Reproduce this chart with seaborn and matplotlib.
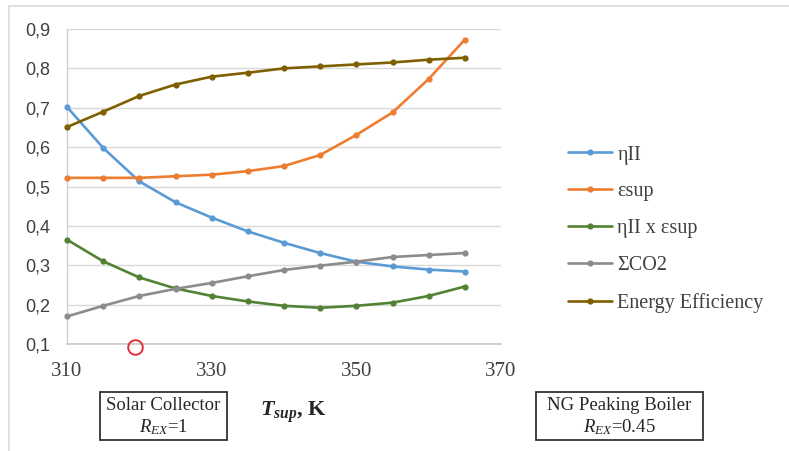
import matplotlib
matplotlib.use("Agg")
import matplotlib.pyplot as plt
import seaborn as sns
import pandas as pd
from matplotlib.patches import Rectangle
from matplotlib.ticker import FuncFormatter

# ---- data ----
t_sup = [310, 315, 320, 325, 330, 335, 340, 345, 350, 355, 360, 365]
eta_II = [0.702, 0.598, 0.513, 0.460, 0.421, 0.386, 0.357, 0.331, 0.309, 0.297, 0.289, 0.284]
eps_sup = [0.522, 0.522, 0.522, 0.526, 0.530, 0.539, 0.552, 0.580, 0.631, 0.688, 0.773, 0.873]
eta_x_eps = [0.365, 0.310, 0.269, 0.241, 0.222, 0.208, 0.197, 0.192, 0.197, 0.205, 0.222, 0.246]
sum_co2 = [0.170, 0.197, 0.222, 0.240, 0.255, 0.272, 0.288, 0.299, 0.309, 0.321, 0.326, 0.331]
energy_eff = [0.651, 0.690, 0.730, 0.759, 0.779, 0.789, 0.800, 0.805, 0.810, 0.815, 0.822, 0.827]

series_names = ["ηII", "ɛsup", "ηII x ɛsup", "ΣCO2", "Energy Efficiency"]
series_values = [eta_II, eps_sup, eta_x_eps, sum_co2, energy_eff]
colors = ["#5B9BD5", "#ED7D31", "#548235", "#8C8C8C", "#7F6000"]

x_ticks = [310, 330, 350, 370]
y_ticks = [0.1, 0.2, 0.3, 0.4, 0.5, 0.6, 0.7, 0.8, 0.9]

rows = []
for name, vals in zip(series_names, series_values):
    for t, v in zip(t_sup, vals):
        rows.append({"T": t, "value": v, "series": name})
df = pd.DataFrame(rows)

sns.set_style("white")
plt.rcParams["font.family"] = ["Liberation Serif", "DejaVu Serif"]
plt.rcParams["mathtext.fontset"] = "custom"
plt.rcParams["mathtext.rm"] = "Liberation Serif"
plt.rcParams["mathtext.it"] = "Liberation Serif:italic"
plt.rcParams["mathtext.bf"] = "Liberation Serif:italic:bold"

fig = plt.figure(figsize=(7.89, 4.51), dpi=100)
ax = fig.add_axes([67 / 789, 1 - 344 / 451, (501 - 67) / 789, (344 - 29) / 451])

sns.lineplot(data=df, x="T", y="value", hue="series", palette=colors,
             hue_order=series_names, marker="o", markersize=4.5,
             markeredgewidth=0, linewidth=1.9, ax=ax, legend=True)
for ln in ax.lines:
    ln.set_clip_on(False)
    ln.set_zorder(3)

ax.set_xlim(310, 370)
ax.set_ylim(0.1, 0.9)
ax.set_xticks(x_ticks)
ax.set_yticks(y_ticks)
ax.yaxis.set_major_formatter(FuncFormatter(lambda v, p: f"{v:.1f}".replace(".", ",")))
ax.grid(axis="y", color="#D9D9D9", linewidth=1)
ax.grid(axis="x", visible=False)
ax.set_axisbelow(True)
for s in ["top", "right"]:
    ax.spines[s].set_visible(False)
ax.spines["bottom"].set_color("#C8C8C8")
ax.spines["bottom"].set_linewidth(1.2)
ax.spines["left"].set_color("#D0D0D0")
ax.spines["left"].set_linewidth(1)
ax.tick_params(axis="both", length=0, colors="#404040")
ax.tick_params(axis="x", pad=13, labelsize=15)
ax.tick_params(axis="y", pad=12, labelsize=13)
for lab in ax.get_yticklabels():
    lab.set_fontfamily(["Liberation Sans", "DejaVu Sans"])
ax.set_xlabel("")
ax.set_ylabel("")

# red hollow circle annotation
ax.plot([319.4], [0.092], marker="o", markersize=10.5, markerfacecolor="none",
        markeredgecolor="#E0303A", markeredgewidth=1.4, clip_on=False, zorder=5)

handles, labels = ax.get_legend_handles_labels()
leg = ax.legend(handles, labels, loc="center left", bbox_to_anchor=(568 / 789, 1 - 229 / 451),
                bbox_transform=fig.transFigure, frameon=False, fontsize=14.5,
                labelspacing=0.88, handlelength=2.2, handletextpad=0.25,
                borderpad=0, borderaxespad=0, labelcolor="#404040")

# chart border (only left/top visible)
fig.patches.append(Rectangle((9 / 789, -0.1), 1.2, 1 - 6 / 451 + 0.1, transform=fig.transFigure,
                             fill=False, edgecolor="#D9D9D9", linewidth=1.2))

# annotation boxes under axis
def box(x0, y0, x1, y1):
    fig.patches.append(Rectangle((x0 / 789, 1 - y1 / 451), (x1 - x0) / 789, (y1 - y0) / 451,
                                 transform=fig.transFigure, fill=False,
                                 edgecolor="#333333", linewidth=1.3))

box(100, 392, 227, 440)
fig.text(163.5 / 789, 1 - 405 / 451, "Solar Collector", ha="center", va="center", fontsize=13.5)
fig.text(163.5 / 789, 1 - 427 / 451, r"$R_{EX}$=1", ha="center", va="center", fontsize=13.5)

box(536, 392, 703, 440)
fig.text(619.5 / 789, 1 - 405 / 451, "NG Peaking Boiler", ha="center", va="center", fontsize=13.5)
fig.text(619.5 / 789, 1 - 427 / 451, r"$R_{EX}$=0.45", ha="center", va="center", fontsize=13.5)

fig.text(293 / 789, 1 - 412 / 451, r"$\mathbf{T_{sup}}$, K", ha="center", va="center",
         fontsize=16, fontweight="bold")

fig.savefig("out.png", dpi=100)
